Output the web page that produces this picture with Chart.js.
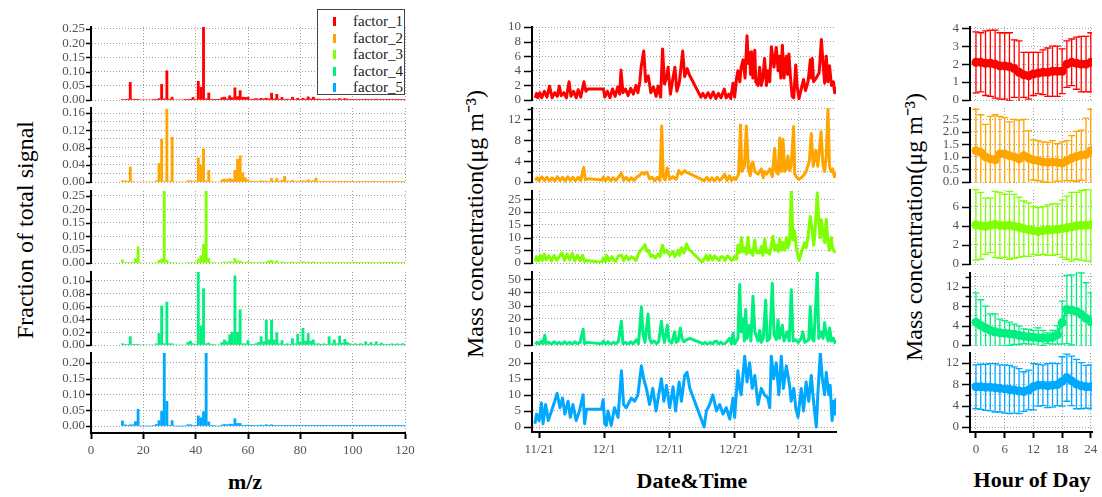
<!DOCTYPE html>
<html>
<head>
<meta charset="utf-8">
<script src="https://cdn.jsdelivr.net/npm/chart.js@4.4.0/dist/chart.umd.min.js"></script>
<style>
body { margin: 0; background: #fff; }
#fig { position: relative; width: 1102px; height: 497px; overflow: hidden; font-family: 'Liberation Serif', serif; background: #fff; }
canvas { position: absolute; }
.ylab { position: absolute; white-space: nowrap; font-size: 24px; color: #000; transform: translate(-50%, -50%) rotate(-90deg); }
.xlab { position: absolute; white-space: nowrap; font-size: 22px; font-weight: bold; color: #000; transform: translate(-50%, -50%); }
#legend { position: absolute; left: 317px; top: 9px; width: 86px; height: 84px; border: 1.5px solid #444; background: #fff; z-index: 5; }
#legend .row { position: absolute; left: 0; height: 16px; line-height: 16px; font-size: 15px; color: #222; }
#legend .mk { position: absolute; left: 15px; top: 4px; width: 3px; height: 9px; }
#legend .tx { position: absolute; left: 35px; top: 0; white-space: nowrap; }
</style>
</head>
<body>
<div id="fig">
  <div class="ylab" style="left:25px;top:230px">Fraction of total signal</div>
  <div class="ylab" style="left:473px;top:224px">Mass concentration(μg m⁻³)</div>
  <div class="ylab" style="left:912px;top:227px">Mass concentration(μg m⁻³)</div>
  <div class="xlab" style="left:245px;top:482px">m/z</div>
  <div class="xlab" style="left:692px;top:481px">Date&amp;Time</div>
  <div class="xlab" style="left:1032px;top:480px">Hour of Day</div>
  <div id="legend"></div>
</div>
<script>
// factors
const factorNames = ['factor_1', 'factor_2', 'factor_3', 'factor_4', 'factor_5'];
const factorColors = ['#ff0000', '#ffa500', '#80ff00', '#00f07f', '#00a8ff'];

// mass spectra (m/z 12..120)
const mz = [12,13,14,15,16,17,18,19,20,21,22,23,24,25,26,27,28,29,30,31,32,33,34,35,36,37,38,39,40,41,
  42,43,44,45,46,47,48,49,50,51,52,53,54,55,56,57,58,59,60,61,62,63,64,65,66,67,68,69,70,71,
  72,73,74,75,76,77,78,79,80,81,82,83,84,85,86,87,88,89,90,91,92,93,94,95,96,97,98,99,100,101,
  102,103,104,105,106,107,108,109,110,111,112,113,114,115,116,117,118,119,120];
const spec1 = [0.002,0.002,0.003,0.062,0.002,0.001,0.001,0,0,0,
  0,0,0.001,0.002,0.005,0.055,0.004,0.103,0.003,0.010,
  0,0,0,0,0.001,0.002,0.003,0.009,0.002,0.066,
  0.045,0.257,0.004,0.025,0.002,0.001,0.001,0.001,0.008,0.010,
  0.004,0.015,0.008,0.043,0.012,0.033,0.010,0.009,0.010,0.002,
  0.003,0.005,0.003,0.006,0.004,0.006,0.004,0.024,0.004,0.020,
  0.003,0.009,0.002,0.003,0.002,0.010,0.002,0.006,0.002,0.006,
  0.003,0.011,0.004,0.010,0.003,0.003,0.002,0.002,0.002,0.004,
  0.002,0.003,0.002,0.005,0.002,0.005,0.003,0.002,0.002,0.002,
  0.002,0.002,0.002,0.003,0.002,0.002,0.002,0.003,0.002,0.002,
  0.002,0.002,0.001,0.002,0.002,0.001,0.002,0.002,0.002];
const spec2 = [0.003,0.003,0.002,0.035,0.001,0,0,0,0,0,
  0,0,0,0.003,0.043,0.099,0.002,0.169,0.002,0.104,
  0,0,0,0,0,0.003,0.003,0.002,0.001,0.056,
  0.039,0.077,0.003,0.027,0.001,0,0,0,0.005,0.007,
  0.006,0.008,0.006,0.027,0.053,0.061,0.022,0.010,0.005,0.002,
  0.001,0.002,0.001,0.003,0.002,0.002,0.001,0.009,0.002,0.008,
  0.002,0.004,0.013,0.002,0.001,0.004,0.001,0.002,0.001,0.003,
  0.002,0.005,0.002,0.003,0.009,0.001,0.001,0.002,0.001,0.002,
  0.001,0.002,0.001,0.002,0.001,0.002,0.001,0.001,0.001,0.001,
  0.001,0.001,0.001,0.002,0.001,0.001,0.002,0.001,0.001,0.001,
  0.001,0.001,0.001,0.001,0.001,0.001,0.001,0.001,0.001];
const spec3 = [0.011,0.002,0.001,0.002,0.003,0.016,0.060,0,0,0,
  0,0,0,0.002,0.010,0.015,0.270,0.010,0.002,0.002,
  0,0,0,0,0,0.002,0.002,0.002,0.001,0.015,
  0.027,0.070,0.270,0.017,0.002,0.001,0,0,0.002,0.004,
  0.003,0.005,0.004,0.017,0.007,0.008,0.003,0.002,0.005,0.001,
  0.001,0.002,0.001,0.003,0.002,0.004,0.008,0.010,0.004,0.008,
  0.002,0.004,0.001,0.002,0.001,0.004,0.001,0.003,0.001,0.005,
  0.002,0.004,0.002,0.004,0.001,0.001,0.001,0.002,0.001,0.003,
  0.001,0.002,0.001,0.002,0.001,0.002,0.001,0.001,0.001,0.001,
  0.001,0.001,0.001,0.002,0.001,0.001,0.001,0.002,0.001,0.001,
  0.001,0.001,0.001,0.001,0.001,0.001,0.001,0.001,0.001];
const spec4 = [0.002,0.001,0.001,0.013,0.001,0.001,0.001,0,0,0,
  0,0,0,0.002,0.018,0.061,0.002,0.067,0.002,0.002,
  0,0,0,0,0,0.004,0.006,0.002,0.001,0.115,
  0.030,0.088,0.002,0.003,0.001,0.001,0,0,0.004,0.008,
  0.005,0.016,0.020,0.108,0.020,0.055,0.002,0.002,0.007,0.001,
  0.001,0.002,0.004,0.013,0.005,0.039,0.008,0.039,0.008,0.019,
  0.002,0.007,0.001,0.002,0.001,0.010,0.002,0.017,0.004,0.026,
  0.006,0.018,0.006,0.008,0.002,0.002,0.001,0.002,0.001,0.013,
  0.002,0.008,0.002,0.014,0.003,0.009,0.004,0.002,0.001,0.002,
  0.001,0.002,0.001,0.005,0.001,0.004,0.001,0.005,0.001,0.003,
  0.001,0.001,0.001,0.002,0.001,0.002,0.001,0.002,0.002];
const spec5 = [0.016,0.004,0.002,0.004,0.004,0.014,0.053,0,0,0,
  0,0,0.002,0.005,0.017,0.046,0.232,0.078,0.002,0.017,
  0,0,0,0,0,0.004,0.004,0.002,0.001,0.032,
  0.026,0.045,0.232,0.013,0.002,0.001,0,0,0.003,0.005,
  0.004,0.006,0.005,0.023,0.008,0.008,0.002,0.002,0.003,0.001,
  0.001,0.002,0.002,0.003,0.002,0.004,0.002,0.004,0.002,0.002,
  0.001,0.002,0.001,0.001,0.001,0.002,0.001,0.002,0.001,0.002,
  0.001,0.002,0.001,0.001,0.001,0.001,0.001,0.001,0.001,0.002,
  0.001,0.001,0.001,0.001,0.001,0.001,0.001,0.001,0.001,0.001,
  0.001,0.001,0.001,0.001,0.001,0.001,0.001,0.001,0.001,0.001,
  0.001,0.001,0.001,0.001,0.001,0.001,0.001,0.001,0.001];
const mzTicks = [0, 20, 40, 60, 80, 100, 120];

// time series: [days since 11/21, ug/m3]
const ts1 = [[-0.6,0.3],[-0.4,0.9],[-0.2,0.3],[0.1,1.0],[0.4,0.3],[0.8,1.2],[1.2,0.4],[1.6,1.9],[2.0,0.3],[2.4,1.0],[2.8,0.5],[3.1,1.9],[3.4,0.6],[3.8,1.0],[4.2,0.3],[4.6,2.5],[4.9,0.5],[5.3,1.2],[5.7,0.3],[6.0,1.4],[6.4,0.4],[6.9,2.5],[7.2,1.2],[7.5,1.5],[9.9,1.5],[10.1,0.4],[10.5,1.2],[10.9,0.3],[11.3,1.5],[11.7,0.5],[12.1,1.8],[12.4,0.8],[12.6,4.1],[12.9,1.0],[13.3,1.5],[13.7,0.6],[14.1,1.6],[14.5,0.8],[14.9,2.0],[15.2,1.0],[15.5,2.5],[15.7,4.5],[16.1,6.7],[16.4,2.5],[16.8,3.3],[17.2,1.0],[17.6,1.8],[18.0,0.5],[18.3,1.9],[18.7,0.4],[19.0,7.0],[19.3,2.2],[19.6,3.0],[19.85,4.5],[20.2,0.8],[20.6,3.0],[20.9,4.5],[21.2,1.2],[21.6,2.5],[22.1,6.7],[22.4,3.2],[22.8,4.3],[23.1,3.5],[24.9,0.4],[25.2,0.9],[25.6,0.3],[26.0,1.0],[26.4,0.3],[26.8,1.1],[27.2,0.2],[27.6,0.9],[28.0,0.3],[28.5,1.5],[28.8,0.3],[29.2,0.8],[29.5,0.2],[29.85,2.3],[30.1,0.4],[30.4,3.0],[30.6,4.0],[30.9,2.5],[31.1,4.5],[31.4,5.5],[31.7,3.0],[32.0,8.8],[32.2,5.0],[32.4,6.5],[32.55,3.5],[32.7,6.6],[32.9,3.0],[33.2,6.8],[33.35,2.5],[33.7,2.0],[33.95,4.5],[34.2,2.0],[34.45,3.0],[34.7,5.7],[35.0,2.0],[35.2,4.0],[35.5,2.5],[35.75,7.3],[36.15,4.5],[36.5,7.2],[36.8,4.0],[37.0,6.0],[37.2,3.0],[37.45,7.5],[37.7,3.0],[38.05,6.0],[38.25,3.5],[38.45,6.3],[38.7,3.0],[38.95,0.5],[39.2,0.3],[39.5,4.8],[39.7,2.0],[40.0,0.2],[40.35,1.5],[40.7,2.8],[41.0,1.3],[41.4,2.5],[41.75,5.5],[41.9,3.0],[42.05,5.7],[42.25,2.5],[42.65,3.0],[43.1,3.7],[43.45,8.3],[43.7,5.0],[43.95,2.3],[44.2,6.0],[44.45,2.5],[44.7,4.7],[45.0,2.0],[45.3,2.5],[45.5,1.0],[45.65,1.8]];
const ts2 = [[-0.6,0.3],[-0.3,0.8],[0.0,0.2],[0.4,1.0],[0.8,0.3],[1.2,0.9],[1.6,0.2],[2.0,0.8],[2.4,0.2],[2.8,1.0],[3.2,0.3],[3.6,0.9],[4.0,0.2],[4.4,1.0],[4.8,0.3],[5.2,0.9],[5.6,0.2],[6.0,0.9],[6.4,0.3],[6.87,2.8],[7.1,0.4],[7.5,0.6],[9.7,0.4],[9.9,1.0],[10.2,0.2],[10.6,0.9],[11.0,0.2],[11.4,0.8],[11.8,0.3],[12.2,0.9],[12.67,1.7],[13.0,0.3],[13.4,0.9],[13.8,0.2],[14.2,0.8],[14.6,0.3],[15.0,0.9],[15.5,1.3],[15.8,1.8],[16.2,1.5],[16.6,1.9],[17.0,0.6],[17.4,0.9],[17.8,0.2],[18.2,0.9],[18.6,0.3],[18.87,10.7],[19.1,1.0],[19.4,0.4],[19.7,2.7],[20.1,0.5],[20.6,1.0],[21.1,0.5],[21.5,2.2],[21.9,1.5],[22.4,2.2],[22.7,1.8],[23.0,1.7],[25.0,0.5],[25.4,0.2],[25.8,0.9],[26.2,0.2],[26.6,0.8],[27.0,0.2],[27.4,0.9],[27.8,0.3],[28.2,0.8],[28.56,1.5],[28.9,0.3],[29.3,1.2],[29.6,0.3],[30.0,0.9],[30.3,0.5],[30.7,1.5],[31.0,10.9],[31.2,2.0],[31.6,3.0],[31.9,10.7],[32.2,2.5],[32.5,1.2],[32.7,3.5],[32.9,3.8],[33.2,2.0],[33.7,1.5],[34.2,2.5],[34.5,0.8],[34.7,2.0],[35.0,1.5],[35.5,2.5],[35.9,1.0],[36.25,6.4],[36.5,2.0],[36.8,1.5],[37.03,8.4],[37.3,2.0],[37.54,8.2],[37.8,2.0],[38.05,2.5],[38.3,5.0],[38.55,2.2],[38.8,3.0],[39.18,10.6],[39.35,1.5],[39.6,1.0],[40.0,0.5],[40.35,0.8],[40.85,1.5],[41.1,2.0],[41.6,4.0],[41.9,9.3],[42.2,3.0],[42.6,6.1],[42.9,3.0],[43.4,9.6],[43.7,3.0],[43.95,2.0],[44.2,5.0],[44.46,14.1],[44.7,3.0],[44.95,2.0],[45.2,2.5],[45.45,1.0],[45.65,2.0]];
const ts3 = [[-0.6,0.5],[-0.4,2.5],[-0.1,0.8],[0.2,3.0],[0.5,1.0],[0.8,3.5],[1.1,1.2],[1.5,2.8],[1.9,0.8],[2.3,3.0],[2.7,1.0],[3.1,2.5],[3.5,4.0],[3.9,1.0],[4.3,3.5],[4.7,1.2],[5.1,3.8],[5.5,0.8],[5.9,3.0],[6.3,0.8],[6.7,3.0],[7.0,0.5],[7.3,1.0],[9.6,0.3],[9.9,2.0],[10.2,0.5],[10.4,3.0],[10.8,0.8],[11.2,2.5],[11.5,1.0],[11.8,0.6],[12.2,2.8],[12.7,3.0],[13.0,1.0],[13.4,2.8],[13.8,1.2],[14.2,2.5],[14.5,2.0],[14.9,1.0],[15.2,3.0],[15.6,5.0],[16.0,6.0],[16.3,7.2],[16.6,4.5],[16.8,5.0],[17.2,2.5],[17.5,3.0],[17.9,2.0],[18.3,3.5],[18.6,2.5],[18.97,7.0],[19.3,4.0],[19.6,5.0],[20.1,3.0],[20.6,4.5],[20.9,2.5],[21.4,5.0],[21.6,3.0],[21.9,6.0],[22.3,4.0],[22.7,7.5],[23.0,5.5],[23.2,5.0],[25.1,0.3],[25.4,1.5],[25.7,3.0],[26.0,1.0],[26.3,3.0],[26.7,1.2],[27.0,2.8],[27.3,2.0],[27.7,1.0],[28.0,2.5],[28.3,2.5],[28.6,1.0],[29.0,2.8],[29.3,2.0],[29.6,1.0],[29.85,1.5],[30.1,2.5],[30.4,1.5],[30.6,7.0],[30.9,4.0],[31.13,10.0],[31.4,4.5],[31.64,6.0],[31.9,3.5],[32.15,10.0],[32.4,4.0],[32.67,5.0],[32.9,3.0],[33.18,9.0],[33.5,4.0],[33.95,4.0],[34.2,6.5],[34.45,3.0],[34.72,9.5],[35.0,4.0],[35.23,5.0],[35.5,3.5],[36.0,10.5],[36.25,5.0],[36.51,7.0],[36.8,4.5],[37.03,9.5],[37.3,5.0],[37.54,8.0],[37.8,5.0],[38.05,10.0],[38.3,6.0],[38.56,8.0],[38.82,28.5],[39.08,9.0],[39.33,12.5],[39.59,6.0],[40.0,1.0],[40.36,4.0],[40.87,8.0],[41.1,6.0],[41.38,10.0],[41.74,18.3],[42.05,13.0],[42.26,7.0],[42.41,10.0],[42.82,27.5],[43.08,15.0],[43.25,10.0],[43.44,17.0],[43.69,12.0],[43.95,8.0],[44.21,17.1],[44.46,8.0],[44.7,5.0],[44.97,10.0],[45.15,6.0],[45.33,5.0],[45.64,4.0]];
const ts4 = [[-0.6,0.5],[-0.3,2.0],[0.0,0.8],[0.4,3.0],[0.6,1.0],[0.87,7.5],[1.1,1.0],[1.5,2.0],[1.9,0.5],[2.3,2.5],[2.7,0.8],[3.1,2.0],[3.5,0.5],[3.9,2.5],[4.3,0.8],[4.7,2.0],[5.1,0.5],[5.5,2.5],[5.9,1.0],[6.3,2.0],[6.77,12.0],[7.0,1.0],[7.3,2.0],[9.6,1.0],[9.9,3.0],[10.2,0.3],[10.6,2.5],[11.0,0.5],[11.4,2.0],[11.8,1.0],[12.2,2.5],[12.67,18.0],[12.9,1.0],[13.3,2.0],[13.7,0.5],[14.1,2.5],[14.5,1.0],[14.97,4.0],[15.3,1.0],[15.74,29.0],[16.0,8.0],[16.3,2.0],[16.77,23.5],[17.0,5.0],[17.3,1.5],[17.7,3.0],[18.1,1.0],[18.4,2.5],[18.82,18.0],[19.05,8.0],[19.3,2.0],[19.74,15.0],[20.0,3.0],[20.4,1.5],[20.87,10.0],[21.1,2.0],[21.4,3.0],[21.74,13.0],[22.0,5.0],[22.3,2.5],[22.7,4.0],[23.2,5.0],[25.2,1.0],[25.5,2.0],[25.9,0.5],[26.3,2.0],[26.7,0.8],[27.0,2.5],[27.3,3.0],[27.6,0.8],[28.0,2.0],[28.4,0.5],[28.8,2.0],[29.3,5.0],[29.6,1.0],[29.85,9.0],[30.1,1.0],[30.6,5.0],[30.87,46.0],[31.1,10.0],[31.4,20.0],[31.6,3.0],[31.8,27.0],[32.0,5.0],[32.4,15.0],[32.6,3.0],[32.92,37.0],[33.2,10.0],[33.7,3.0],[33.95,11.0],[34.2,2.0],[34.5,5.0],[34.87,34.0],[35.1,3.0],[35.5,5.0],[35.9,47.0],[36.15,8.0],[36.5,4.0],[36.77,19.0],[37.0,5.0],[37.44,15.0],[37.7,3.0],[38.2,10.0],[38.5,3.0],[38.82,42.0],[39.1,3.0],[39.5,4.0],[39.9,2.0],[40.35,5.0],[40.6,10.0],[40.9,2.0],[41.5,4.0],[41.74,29.0],[42.0,5.0],[42.3,3.0],[42.82,55.0],[43.05,5.0],[43.4,10.0],[43.7,5.0],[43.95,17.0],[44.2,8.0],[44.5,3.0],[44.72,13.0],[45.0,3.0],[45.3,5.0],[45.6,1.0]];
const ts5 = [[-0.65,1.0],[-0.4,4.0],[0.0,2.0],[0.36,7.5],[0.6,1.0],[1.0,7.0],[1.4,2.0],[1.9,5.0],[2.4,8.0],[2.77,10.5],[3.2,6.0],[3.6,9.0],[3.95,4.0],[4.45,8.0],[4.8,3.0],[5.2,7.0],[5.7,2.0],[6.2,5.0],[6.77,10.0],[7.0,1.0],[7.3,5.5],[9.6,5.5],[9.85,8.5],[10.1,1.0],[10.35,0.5],[10.6,5.0],[11.1,0.5],[11.6,6.0],[12.15,3.0],[12.67,17.5],[13.0,7.0],[13.4,6.0],[14.2,9.0],[14.7,8.0],[15.2,10.0],[15.74,19.0],[16.1,15.0],[16.5,12.0],[17.0,7.0],[17.5,12.0],[18.0,5.0],[18.82,15.0],[19.2,8.0],[19.6,13.0],[20.1,6.0],[20.62,12.5],[21.0,5.0],[21.55,14.0],[21.9,8.0],[22.4,16.0],[22.77,17.0],[23.2,12.0],[25.4,0.0],[25.75,5.0],[26.25,7.0],[26.75,10.0],[27.3,5.0],[27.8,7.0],[28.3,4.0],[28.8,6.0],[29.35,2.5],[29.85,9.0],[30.1,3.0],[30.6,17.5],[30.85,12.0],[31.1,10.0],[31.64,22.0],[32.0,14.0],[32.4,20.0],[32.8,12.0],[33.2,16.0],[33.7,7.0],[34.2,12.0],[34.7,10.0],[35.2,9.0],[35.5,6.0],[35.74,22.0],[36.1,15.0],[36.5,20.0],[36.9,10.0],[37.28,22.0],[37.6,12.0],[38.05,19.0],[38.55,13.0],[38.8,8.0],[39.2,12.0],[39.5,6.0],[39.85,3.0],[40.35,12.0],[40.7,5.0],[41.1,14.0],[41.5,8.0],[41.9,16.0],[42.15,10.0],[42.4,5.0],[42.67,0.0],[42.9,10.0],[43.28,23.0],[43.6,15.0],[43.95,10.0],[44.2,17.0],[44.6,10.0],[44.8,13.0],[45.1,2.0],[45.3,8.0],[45.5,4.0],[45.7,9.0]];
const dateTickDays = [0, 10, 20, 30, 40];
const dateTickLabels = ['11/21', '12/1', '12/11', '12/21', '12/31'];

// diurnal cycles: mean and standard deviation per hour
const hours = [0,1,2,3,4,5,6,7,8,9,10,11,12,13,14,15,16,17,18,19,20,21,22,23,24];
const diur1 = [2.1,2.1,2.05,2.05,2.0,1.9,1.9,1.85,1.75,1.55,1.4,1.35,1.45,1.5,1.55,1.55,1.6,1.6,1.6,2.0,2.1,2.05,2.0,2.0,2.1];
const sd1 = [1.7,1.65,1.8,1.85,1.9,1.85,1.85,1.9,1.6,1.75,1.25,1.3,1.2,1.15,1.25,1.35,1.4,1.4,1.25,1.3,1.3,1.45,1.55,1.55,1.65];
const diur2 = [1.25,1.18,1.0,0.92,0.88,1.12,1.12,1.05,1.0,0.92,1.05,0.95,0.88,0.85,0.8,0.78,0.8,0.78,0.75,0.85,0.95,1.02,1.07,1.1,1.25];
const sd2 = [1.65,1.5,1.3,1.7,1.8,1.5,1.45,1.35,1.5,1.55,1.45,1.1,0.8,0.8,0.8,0.8,0.85,0.75,0.85,0.8,0.9,1.0,1.0,1.45,1.65];
const diur3 = [4.1,4.0,3.95,4.05,4.15,4.05,4.0,4.05,3.95,3.85,3.7,3.6,3.5,3.4,3.5,3.55,3.6,3.65,3.7,3.8,3.9,4.0,4.05,4.05,4.1];
const sd3 = [3.7,3.5,2.95,2.85,3.45,3.45,3.3,3.55,3.35,3.15,2.9,2.8,2.5,2.5,2.5,2.65,2.7,2.65,3.0,3.3,3.6,3.5,3.65,3.75,3.8];
const diur4 = [4.7,4.0,3.5,3.0,2.7,2.5,2.4,2.3,2.2,2.0,1.8,1.7,1.6,1.5,1.45,1.4,1.6,2.1,4.6,7.3,7.2,6.9,6.3,5.5,4.8];
const sd4 = [6.0,5.3,4.5,3.4,3.7,2.8,2.6,2.4,2.1,1.9,1.5,1.5,1.4,2.0,1.55,1.1,1.4,1.9,4.4,7.0,7.2,8.3,8.5,7.3,5.9];
const diur5 = [7.5,7.5,7.4,7.4,7.3,7.2,7.1,7.0,6.9,6.7,6.6,6.9,7.5,7.8,7.8,7.7,7.8,7.9,8.5,9.2,8.6,8.0,7.7,7.5,7.5];
const sd5 = [4.1,4.2,4.3,4.4,4.5,4.4,4.5,4.5,4.3,4.2,3.7,3.7,4.3,3.9,3.8,4.1,4.1,3.9,4.6,4.4,4.6,4.6,4.3,4.0,4.1];
const hourTicks = [0, 6, 12, 18, 24];

const specs = [spec1, spec2, spec3, spec4, spec5];
const series = [ts1, ts2, ts3, ts4, ts5];
const diurnal = [diur1, diur2, diur3, diur4, diur5];
const diurnalSd = [sd1, sd2, sd3, sd4, sd5];

// layout of the three columns
const colSpec = { L: 91, R: 405, xmin: 0, xmax: 120, ticks: mzTicks, labels: mzTicks.map(String), tick: 5, pad: 6,
  rows: [
    { top: 27, zero: 100, max: 0.257, major: 0.05, dec: 2 },
    { top: 108, zero: 182, max: 0.1717, major: 0.04, minor: 0.02, dec: 2 },
    { top: 191, zero: 263, max: 0.2677, major: 0.05, dec: 2 },
    { top: 272, zero: 345, max: 0.114, major: 0.02, dec: 2 },
    { top: 353, zero: 426, axis: 433, max: 0.2306, major: 0.05, dec: 2 }
  ] };
const colTime = { L: 532, R: 836, xmin: -1.1, xmax: 45.7, ticks: dateTickDays, labels: dateTickLabels, tick: 8, pad: 11,
  rows: [
    { top: 27, zero: 100, max: 10, major: 2, dec: 0 },
    { top: 108, zero: 182, max: 14.16, major: 4, minor: 2, dec: 0 },
    { top: 191, zero: 263, max: 28.26, major: 5, dec: 0 },
    { top: 272, zero: 345, max: 55.5, major: 10, dec: 0 },
    { top: 353, zero: 427, axis: 432, max: 23.0, major: 5, dec: 0 }
  ] };
const colHour = { L: 970, R: 1092, xmin: -1.25, xmax: 24.25, ticks: hourTicks, labels: hourTicks.map(String), tick: 8, pad: 11,
  rows: [
    { top: 27, zero: 100, max: 4.07, major: 1, dec: 0 },
    { top: 108, zero: 182, max: 2.95, major: 0.5, dec: 1 },
    { top: 190, zero: 264, max: 7.75, major: 2, dec: 0 },
    { top: 273, zero: 345, max: 14.8, major: 4, minor: 2, dec: 0 },
    { top: 353, zero: 427, axis: 432, max: 13.8, major: 4, minor: 2, dec: 0 }
  ] };

const fig = document.getElementById('fig');

// legend
const legend = document.getElementById('legend');
factorNames.forEach((name, i) => {
  const row = document.createElement('div');
  row.className = 'row';
  row.style.top = (3 + i * 16.5) + 'px';
  row.innerHTML = '<span class="mk" style="background:' + factorColors[i] + '"></span><span class="tx">' + name + '</span>';
  legend.appendChild(row);
});

// tick marks on the y axis (major long, minor short)
function yTickMarks(len) {
  return {
    id: 'yTickMarks',
    afterDraw(chart) {
      const ys = chart.scales.y, ctx = chart.ctx, x0 = chart.chartArea.left;
      ctx.save();
      ctx.strokeStyle = '#000';
      ctx.lineWidth = 1.5;
      ys.ticks.forEach(t => {
        const py = Math.round(ys.getPixelForValue(t.value)) + 0.5;
        const l = t.label === '' ? len * 0.55 : len;
        ctx.beginPath();
        ctx.moveTo(x0 - l, py);
        ctx.lineTo(x0, py);
        ctx.stroke();
      });
      ctx.restore();
    }
  };
}

// error bars for the diurnal panels
const errorBars = {
  id: 'errorBars',
  beforeDatasetsDraw(chart) {
    const ds = chart.data.datasets[0];
    if (!ds.errorSd) return;
    const xs = chart.scales.x, ys = chart.scales.y, ctx = chart.ctx, a = chart.chartArea;
    ctx.save();
    ctx.beginPath();
    ctx.rect(a.left, a.top - 1, a.right - a.left, a.bottom - a.top + 2);
    ctx.clip();
    ctx.strokeStyle = ds.borderColor;
    ctx.lineWidth = 1.3;
    ds.data.forEach((p, i) => {
      const px = xs.getPixelForValue(p.x);
      const y1 = ys.getPixelForValue(p.y + ds.errorSd[i]);
      const y2 = ys.getPixelForValue(p.y - ds.errorSd[i]);
      ctx.beginPath();
      ctx.moveTo(px, y1); ctx.lineTo(px, y2);
      ctx.moveTo(px - 3.5, y1); ctx.lineTo(px + 3.5, y1);
      ctx.moveTo(px - 3.5, y2); ctx.lineTo(px + 3.5, y2);
      ctx.stroke();
    });
    ctx.restore();
  }
};

function addPanel(col, p, last, type, dataset) {
  const AX = 70, PT = 24, PR = 14;
  const PB = last ? 0 : 24, XH = last ? 45 : 0;
  const bottom = last ? p.axis : p.zero;
  const perPx = p.max / (p.zero - p.top);
  const yMin = last ? -(p.axis - p.zero) * perPx : 0;
  const cv = document.createElement('canvas');
  cv.width = AX + col.R - col.L + PR;
  cv.height = PT + bottom - p.top + PB + XH;
  cv.style.left = (col.L - AX) + 'px';
  cv.style.top = (p.top - PT) + 'px';
  fig.appendChild(cv);

  const step = p.minor || p.major;
  const tickVals = [];
  for (let k = 0; k * step <= p.max + 1e-9; k++) tickVals.push(+(k * step).toFixed(4));
  const isMajor = v => Math.abs(v / p.major - Math.round(v / p.major)) < 1e-6;
  const font = { family: "'Liberation Serif', serif", size: 13 };

  new Chart(cv, {
    type: type,
    data: { datasets: [dataset] },
    options: {
      responsive: false,
      animation: false,
      layout: { padding: { left: 0, top: PT, right: PR, bottom: PB } },
      plugins: { legend: { display: false }, tooltip: { enabled: false } },
      scales: {
        x: {
          type: 'linear', min: col.xmin, max: col.xmax, offset: false,
          afterFit: s => { s.height = XH; },
          afterBuildTicks: s => { s.ticks = col.ticks.map(v => ({ value: v })); },
          ticks: { display: last, autoSkip: false, maxRotation: 0, padding: 4, color: '#555', font: font,
            callback: (v, i) => col.labels[i] },
          grid: { color: '#a0a0a0', lineWidth: 1, drawTicks: last, tickLength: 6, tickWidth: 2, tickColor: '#000',
            tickBorderDash: [], offset: false, borderDash: [1, 2] },
          border: { display: last, color: '#000', width: 2, dash: [1, 2] }
        },
        y: {
          min: yMin, max: p.max,
          afterFit: s => { s.width = AX; },
          afterBuildTicks: s => { s.ticks = tickVals.map(v => ({ value: v })); },
          ticks: { autoSkip: false, padding: col.pad, color: '#555', font: font,
            callback: v => isMajor(v) ? v.toFixed(p.dec) : '' },
          grid: { color: '#a0a0a0', lineWidth: 1, drawTicks: false, borderDash: [1, 2] },
          border: { display: true, color: '#000', width: 2, dash: [1, 2] }
        }
      }
    },
    plugins: [yTickMarks(col.tick), errorBars]
  });
}

for (let f = 0; f < 5; f++) {
  const last = f === 4;
  addPanel(colSpec, colSpec.rows[f], last, 'bar', {
    data: mz.map((m, i) => ({ x: m, y: specs[f][i] })),
    backgroundColor: factorColors[f], borderWidth: 0, barThickness: 2.2
  });
  addPanel(colTime, colTime.rows[f], last, 'line', {
    data: series[f].map(d => ({ x: d[0], y: d[1] })),
    borderColor: factorColors[f], borderWidth: 3, pointRadius: 0, tension: 0, fill: false,
    borderJoinStyle: 'round'
  });
  addPanel(colHour, colHour.rows[f], last, 'line', {
    data: hours.map((h, i) => ({ x: h, y: diurnal[f][i] })),
    errorSd: diurnalSd[f],
    borderColor: factorColors[f], backgroundColor: factorColors[f], borderWidth: 3,
    pointRadius: 4.5, pointBorderWidth: 0, pointBackgroundColor: factorColors[f], tension: 0, fill: false
  });
}
</script>
</body>
</html>
